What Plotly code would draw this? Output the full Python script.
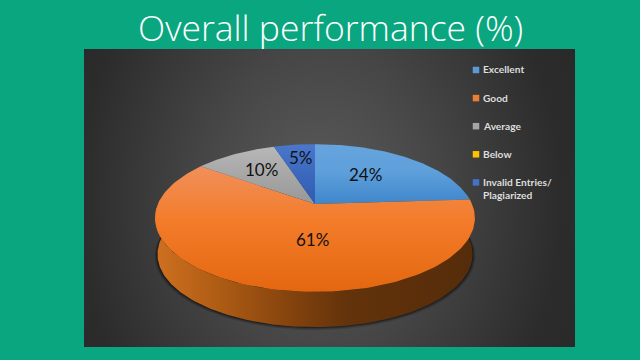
import numpy as np
import plotly.graph_objects as go

categories = ["Excellent", "Good", "Average", "Below", "Invalid Entries/<br>Plagiarized"]
values = [24, 61, 10, 0, 5]
labels = ["24%", "61%", "10%", None, "5%"]

TOP_COLORS = [("#3F86CB", "#5FA0DB", "#66A4DD"), ("#E4670F", "#F37B29", "#F0905A"), ("#989898", "#A8A8A8", "#B8B8B8"),
              ("#FFC000", "#FFC000", "#FFC000"), ("#2F5CB0", "#3D6ABF", "#4A78CC")]
LEGEND_COLORS = ["#5B9BD5", "#ED7D31", "#A5A5A5", "#FFC000", "#4472C4"]
LABEL_POS = [(365, 174), (312, 239), (261, 169), None, (301, 157)]

CX, CY, B, A, K = 315.0, 204.0, 157.0, 71.2, 0.19
DEPTH = 36.5
BASE_SCALE = 0.985


def project(theta, rho=1.0, dy=0.0, scale=1.0):
    X, Y = rho * np.sin(theta), rho * np.cos(theta)
    s = 1 + K * Y
    return CX + scale * B * X / s, CY + dy - scale * A * Y / s


fig = go.Figure()

# panel background (radial glow), rectangle larger than plot area so it clips
fig.add_trace(go.Scatter(
    x=[-80, 720, 720, -80, -80], y=[-300, -300, 700, 700, -300], mode="lines", fill="toself",
    line=dict(width=0), hoverinfo="skip", showlegend=False,
    fillgradient=dict(type="radial", colorscale=[[0, "#5C5C5C"], [0.3, "#464646"], [0.6, "#2C2C2C"], [1, "#202020"]]),
))

# soft shadow under the pie
th = np.linspace(0, 2 * np.pi, 241)
for grow, alpha in [(3, 0.12), (2, 0.2), (1, 0.3)]:
    sx, sy = project(th, dy=DEPTH + grow * 0.5, scale=BASE_SCALE + grow / 160)
    fig.add_trace(go.Scatter(x=sx, y=sy, mode="lines", fill="toself", line=dict(width=0),
                             fillcolor=f"rgba(0,0,0,{alpha})", hoverinfo="skip", showlegend=False))

# wall
arc = np.radians(np.linspace(70, 290, 241))
tx, ty = project(arc)
bx, by = project(arc, dy=DEPTH, scale=BASE_SCALE)
fig.add_trace(go.Scatter(
    x=np.r_[tx, bx[::-1], tx[0]], y=np.r_[ty, by[::-1], ty[0]], mode="lines", fill="toself",
    line=dict(width=0), hoverinfo="skip", showlegend=False,
    fillgradient=dict(type="horizontal", colorscale=[[0, "#CF7020"], [0.2, "#AE5C14"], [0.45, "#7F400D"], [0.6, "#63330B"], [1, "#552C0A"]]),
))

# top slices
cum = np.r_[0, np.cumsum(values)] / sum(values) * 2 * np.pi
for i, v in enumerate(values):
    if v <= 0:
        continue
    t = np.linspace(cum[i], cum[i + 1], 120)
    x, y = project(t)
    c0, c1, c2 = TOP_COLORS[i]
    fig.add_trace(go.Scatter(
        x=np.r_[CX, x, CX], y=np.r_[CY, y, CY], mode="lines", fill="toself",
        line=dict(width=0), hoverinfo="skip", showlegend=False,
        fillgradient=dict(type="vertical", colorscale=[[0, c0], [0.55, c1], [1, c2]]),
    ))

# legend
LEG_Y0, LEG_DY = 70, 28.1
leg_y = [LEG_Y0 + LEG_DY * i for i in range(len(categories))]
fig.add_trace(go.Scatter(x=[476] * len(categories), y=leg_y, mode="markers", hoverinfo="skip", showlegend=False,
                         marker=dict(symbol="square", size=6.5, color=LEGEND_COLORS, line=dict(width=0))))

annotations = []
for c, y in zip(categories, leg_y):
    annotations.append(dict(x=481.5, y=y - 7.5, xref="x", yref="y", text=c, showarrow=False, xanchor="left", yanchor="top",
                            align="left", borderpad=0, font=dict(family="Lato", size=10.2, color="#DDDDDD", weight=700)))
for lab, pos in zip(labels, LABEL_POS):
    if lab:
        annotations.append(dict(x=pos[0], y=pos[1], xref="x", yref="y", text=lab, showarrow=False,
                                font=dict(family="Lato", size=17, color="#111111")))
annotations.append(dict(x=330 / 640, y=1 - 27 / 360, xref="paper", yref="paper", text="Overall performance (%)", yanchor="middle",
                        showarrow=False, font=dict(family="Open Sans", size=35.5, color="white", weight=300)))

PW, PH = 640, 360
fig.update_layout(
    width=640, height=360, margin=dict(l=0, r=0, t=0, b=0), paper_bgcolor="#09A680", plot_bgcolor="#303030",
    xaxis=dict(domain=[84 / PW, 575 / PW], range=[84, 575], visible=False, fixedrange=True),
    yaxis=dict(domain=[1 - 347 / PH, 1 - 49 / PH], range=[347, 49], visible=False, fixedrange=True),
    annotations=annotations, showlegend=False,
)
fig.write_html("out.html", config=dict(displayModeBar=False),
               post_script="document.body.style.margin='0';document.documentElement.style.overflow='hidden';")
